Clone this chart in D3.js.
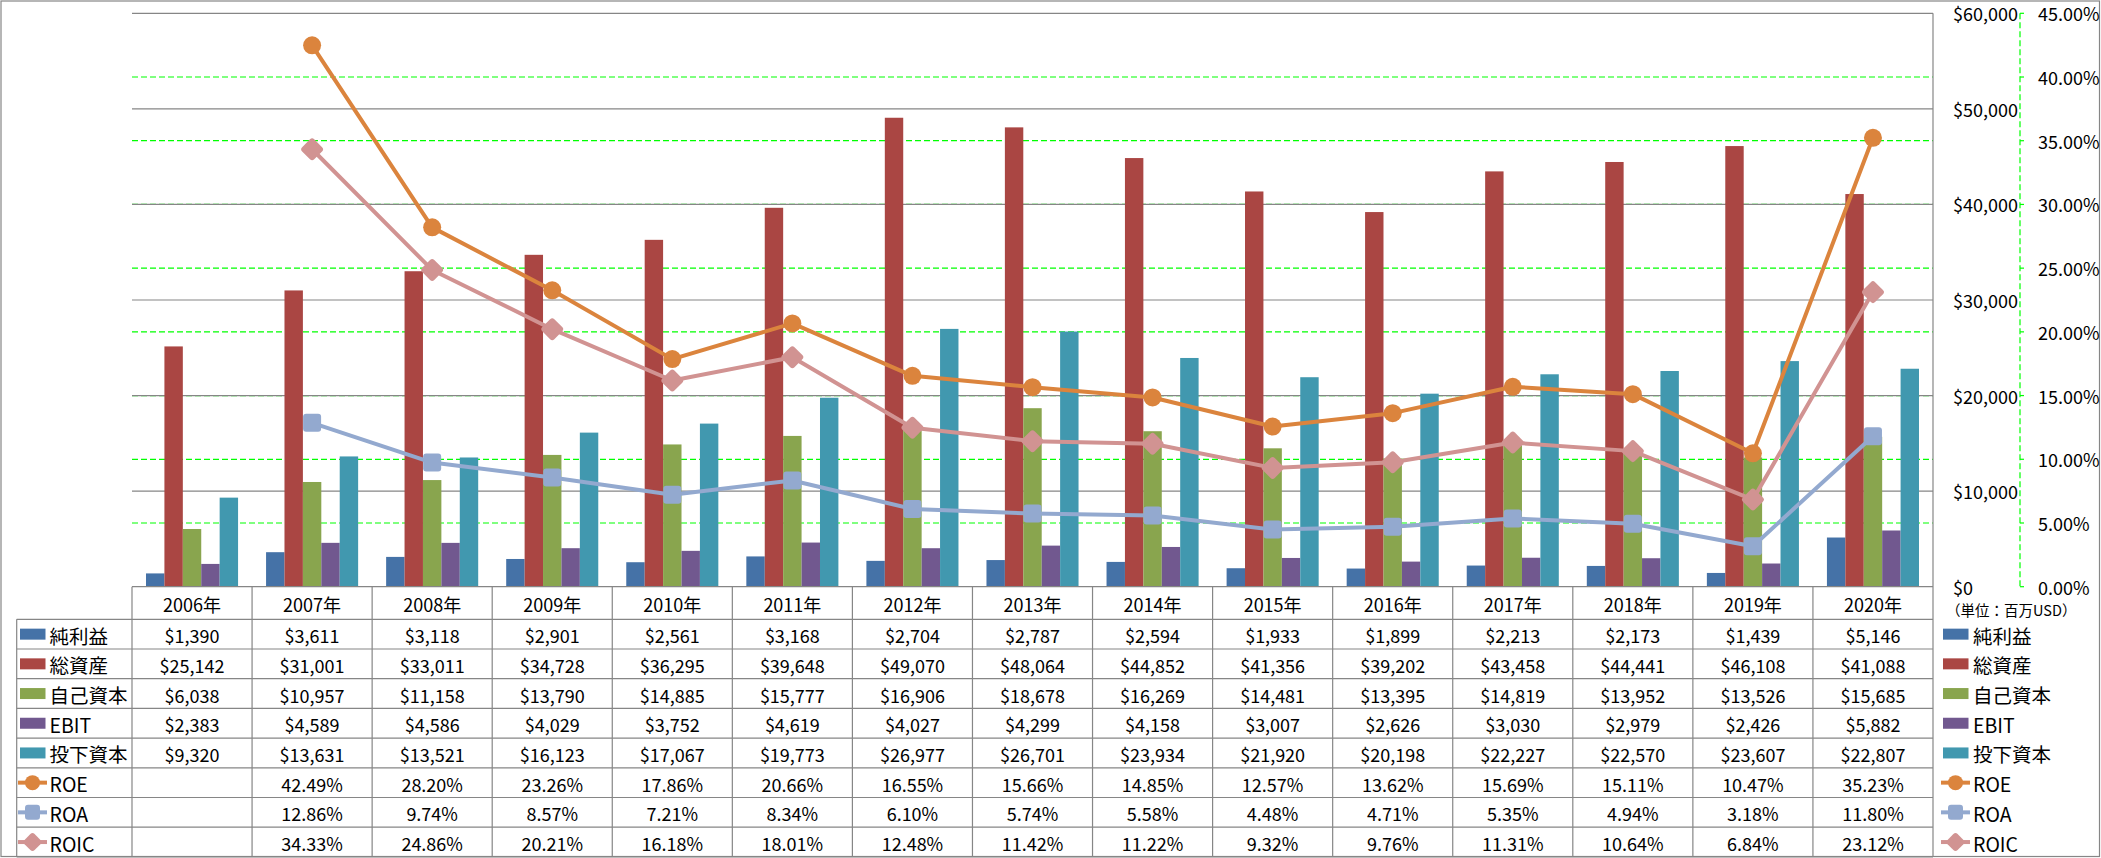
<!DOCTYPE html>
<html><head><meta charset="utf-8">
<script src="https://cdn.jsdelivr.net/npm/d3@7"></script>
<style>
html,body{margin:0;padding:0;background:#fff;}
text{font-family:"Noto Sans CJK JP","Noto Sans",sans-serif;fill:#000;}
</style></head>
<body><svg id="c" width="2101" height="858"></svg>
<script>
const years = ["2006年","2007年","2008年","2009年","2010年","2011年","2012年","2013年","2014年","2015年","2016年","2017年","2018年","2019年","2020年"];
const netIncome   = [1390,3611,3118,2901,2561,3168,2704,2787,2594,1933,1899,2213,2173,1439,5146];
const totalAssets = [25142,31001,33011,34728,36295,39648,49070,48064,44852,41356,39202,43458,44441,46108,41088];
const equity      = [6038,10957,11158,13790,14885,15777,16906,18678,16269,14481,13395,14819,13952,13526,15685];
const ebit        = [2383,4589,4586,4029,3752,4619,4027,4299,4158,3007,2626,3030,2979,2426,5882];
const investedCap = [9320,13631,13521,16123,17067,19773,26977,26701,23934,21920,20198,22227,22570,23607,22807];
const roe  = [null,42.49,28.20,23.26,17.86,20.66,16.55,15.66,14.85,12.57,13.62,15.69,15.11,10.47,35.23];
const roa  = [null,12.86,9.74,8.57,7.21,8.34,6.10,5.74,5.58,4.48,4.71,5.35,4.94,3.18,11.80];
const roic = [null,34.33,24.86,20.21,16.18,18.01,12.48,11.42,11.22,9.32,9.76,11.31,10.64,6.84,23.12];
const leftTicks  = [0,10000,20000,30000,40000,50000,60000];
const rightTicks = [0,5,10,15,20,25,30,35,40,45];
const unitLabel = "（単位：百万USD）";

const barSeries = [
  {name:"純利益", values:netIncome, color:"#4572A7"},
  {name:"総資産", values:totalAssets, color:"#AA4643"},
  {name:"自己資本", values:equity, color:"#89A54E"},
  {name:"EBIT", values:ebit, color:"#71588F"},
  {name:"投下資本", values:investedCap, color:"#4198AF"}
];
const lineSeries = [
  {name:"ROE", values:roe, color:"#DB843D", marker:"circle"},
  {name:"ROA", values:roa, color:"#93A9CF", marker:"square"},
  {name:"ROIC", values:roic, color:"#D19392", marker:"diamond"}
];

const svg = d3.select("#c");
const L = 132, R = 1933, T = 13.3, B = 586.7;
const FS = 18;

const x = d3.scaleBand().domain(years).range([L, R]).padding(0);
const bw = x.bandwidth();
const x1 = d3.scaleBand().domain(barSeries.map(s=>s.name)).range([bw*0.1166, bw*0.8834]).padding(0);
const yL = d3.scaleLinear().domain([0,60000]).range([B, T]);
const yR = d3.scaleLinear().domain([0,45]).range([B, T]);

// outer border
svg.append("rect").attr("x",1).attr("y",1).attr("width",2098.5).attr("height",855.5)
  .attr("fill","none").attr("stroke","#868686").attr("stroke-width",1.2);

// green dashed gridlines (secondary)
svg.append("g").selectAll("line").data(rightTicks.filter(v=>v>0&&v<45)).join("line")
  .attr("x1",L).attr("x2",R).attr("y1",d=>yR(d)).attr("y2",d=>yR(d))
  .attr("stroke","#00FF00").attr("stroke-width",1.2).attr("stroke-dasharray","6,3");

// grey gridlines (primary)
svg.append("g").selectAll("line").data(leftTicks.filter(v=>v>0)).join("line")
  .attr("x1",L).attr("x2",R).attr("y1",d=>yL(d)).attr("y2",d=>yL(d))
  .attr("stroke","#868686").attr("stroke-width",1.2);

// bars
const gBars = svg.append("g");
barSeries.forEach(s=>{
  gBars.append("g").selectAll("rect").data(s.values).join("rect")
    .attr("x",(d,i)=>x(years[i])+x1(s.name))
    .attr("width",x1.bandwidth())
    .attr("y",d=>yL(d)).attr("height",d=>B-yL(d))
    .attr("fill",s.color);
});

// primary axis line at right
svg.append("line").attr("x1",R).attr("x2",R).attr("y1",T).attr("y2",856).attr("stroke","#868686").attr("stroke-width",1.2);

// right axis labels
const gAx = svg.append("g").attr("font-size",FS);
gAx.selectAll("text.l").data(leftTicks).join("text").attr("class","l")
  .attr("x",1953).attr("y",d=>yL(d)).attr("dominant-baseline","central")
  .text(d=>"$"+d3.format(",")(d));
gAx.selectAll("text.r").data(rightTicks).join("text").attr("class","r")
  .attr("x",2038).attr("y",d=>yR(d)).attr("dominant-baseline","central")
  .text(d=>d.toFixed(2)+"%");
// secondary axis line (green dashed) with ticks
svg.append("line").attr("x1",2020).attr("x2",2020).attr("y1",T).attr("y2",B)
  .attr("stroke","#00FF00").attr("stroke-width",1.2).attr("stroke-dasharray","6,3");
svg.append("g").selectAll("line").data(rightTicks).join("line")
  .attr("x1",2020).attr("x2",2024).attr("y1",d=>yR(d)).attr("y2",d=>yR(d))
  .attr("stroke","#00FF00").attr("stroke-width",1.2);
svg.append("text").attr("x",1946).attr("y",609).attr("font-size",14.5).attr("dominant-baseline","central").text(unitLabel);

// markers
function drawMarker(g, type, cx, cy, color, size){
  if(type==="circle"){
    g.append("circle").attr("cx",cx).attr("cy",cy).attr("r",size/2).attr("fill",color);
  } else if(type==="square"){
    g.append("rect").attr("x",cx-size/2).attr("y",cy-size/2).attr("width",size).attr("height",size)
      .attr("rx",3).attr("fill",color);
  } else {
    const s = size*0.95;
    g.append("rect").attr("x",cx-s/2).attr("y",cy-s/2).attr("width",s).attr("height",s)
      .attr("rx",3).attr("fill",color).attr("transform",`rotate(45,${cx},${cy})`);
  }
}

// lines
const gLines = svg.append("g");
lineSeries.forEach(s=>{
  const pts = s.values.map((v,i)=>({v,i})).filter(d=>d.v!=null);
  const line = d3.line().x(d=>x(years[d.i])+bw/2).y(d=>yR(d.v));
  gLines.append("path").datum(pts).attr("d",line).attr("fill","none")
    .attr("stroke",s.color).attr("stroke-width",4).attr("stroke-linejoin","round");
  const gm = gLines.append("g");
  pts.forEach(d=>drawMarker(gm, s.marker, x(years[d.i])+bw/2, yR(d.v), s.color, 18));
});

// data table
const tbl = svg.append("g");
const headTop = B, rowTop = 619.3, rowH = 29.7;
const rows = barSeries.length + lineSeries.length;
const tBottom = rowTop + rowH*rows;
const gridC = "#868686";
for(let r=0;r<=rows;r++){
  const yy = rowTop + r*rowH;
  tbl.append("line").attr("x1",16.7).attr("x2",R).attr("y1",yy).attr("y2",yy).attr("stroke",gridC).attr("stroke-width",1.2);
}
tbl.append("line").attr("x1",L).attr("x2",R).attr("y1",headTop).attr("y2",headTop).attr("stroke",gridC).attr("stroke-width",1.2);
years.forEach(yv=>{
  tbl.append("line").attr("x1",x(yv)).attr("x2",x(yv)).attr("y1",headTop).attr("y2",tBottom).attr("stroke",gridC).attr("stroke-width",1.2);
});
tbl.append("line").attr("x1",16.7).attr("x2",16.7).attr("y1",rowTop).attr("y2",tBottom).attr("stroke",gridC).attr("stroke-width",1.2);

// year headers
tbl.append("g").attr("font-size",FS).selectAll("text").data(years).join("text")
  .attr("x",d=>x(d)+bw/2).attr("y",(headTop+rowTop)/2+1).attr("text-anchor","middle").attr("dominant-baseline","central").text(d=>d);

const fmtD = v=>"$"+d3.format(",")(v);
const fmtP = v=>v==null?"":v.toFixed(2)+"%";
const allRows = barSeries.map(s=>({s,type:"bar",fmt:fmtD})).concat(lineSeries.map(s=>({s,type:"line",fmt:fmtP})));
allRows.forEach((r,ri)=>{
  const cy = rowTop + ri*rowH + rowH/2;
  tbl.append("g").attr("font-size",FS).selectAll("text").data(r.s.values).join("text")
    .attr("x",(d,i)=>x(years[i])+bw/2).attr("y",cy+1).attr("text-anchor","middle").attr("dominant-baseline","central")
    .text(d=>r.fmt(d));
  [[20,49.5],[1943,1973]].forEach(([kx,tx])=>{
    if(r.type==="bar"){
      tbl.append("rect").attr("x",kx).attr("y",cy-5.5).attr("width",25.5).attr("height",11).attr("fill",r.s.color);
    } else {
      tbl.append("line").attr("x1",kx-2).attr("x2",kx+27).attr("y1",cy).attr("y2",cy).attr("stroke",r.s.color).attr("stroke-width",4);
      drawMarker(tbl, r.s.marker, kx+12.5, cy, r.s.color, 15);
    }
    tbl.append("text").attr("x",tx).attr("y",cy+1).attr("font-size",19.5).attr("dominant-baseline","central").text(r.s.name);
  });
});
</script></body></html>
